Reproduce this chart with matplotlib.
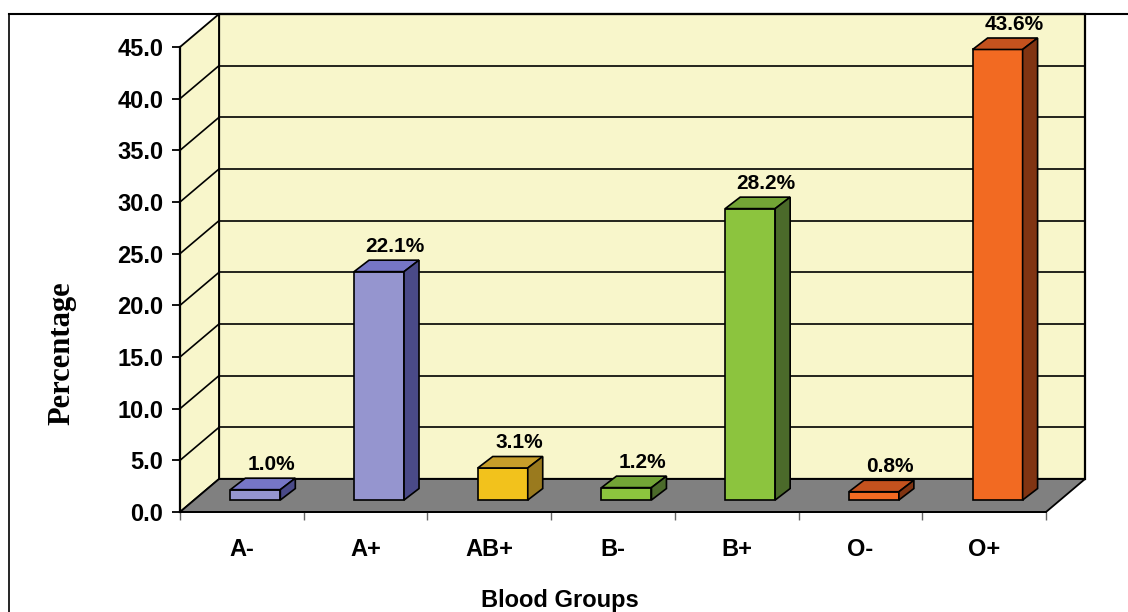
import matplotlib.pyplot as plt
from matplotlib.patches import Polygon
from matplotlib.lines import Line2D

# data
groups = ['A-', 'A+', 'AB+', 'B-', 'B+', 'O-', 'O+']
percent = [1.0, 22.1, 3.1, 1.2, 28.2, 0.8, 43.6]
face_col = ['#9595CF', '#9595CF', '#F2C21C', '#8CC43E', '#8CC43E', '#F26A22', '#F26A22']
top_col = ['#7676C6', '#7676C6', '#C79E2A', '#73A536', '#73A536', '#C4521E', '#C4521E']
side_col = ['#4A4A88', '#4A4A88', '#9A7A1E', '#4B6A2A', '#4B6A2A', '#803412', '#803412']
yticks = [0, 5, 10, 15, 20, 25, 30, 35, 40, 45]

# fake 3d geometry (data units)
DX, DY = 0.315, 3.19          # depth of the walls
BX, BY = 0.109, 1.16          # where the bar front sits
BDX, BDY = 0.121, 1.11        # depth of a bar
BW = 0.404                    # bar width
WALL = '#F8F6CB'
FLOOR = '#808080'
FONT = 'Liberation Sans'

fig = plt.figure(figsize=(11.28, 6.12), dpi=100)
ax = fig.add_axes([180/1128, 100/612, 866/1128, 465/612])
n = len(groups)
x0, x1 = -0.5, n - 0.5
ymax = yticks[-1]
ax.set_xlim(x0, x1)
ax.set_ylim(0, ymax)
ax.patch.set_visible(False)

def poly(pts, fc, lw=1.0, z=1):
    ax.add_patch(Polygon(pts, closed=True, fc=fc, ec='black', lw=lw, zorder=z, clip_on=False))

# walls and floor
poly([(x0 + DX, DY), (x1 + DX, DY), (x1 + DX, ymax + DY), (x0 + DX, ymax + DY)], WALL, 1.6, 0.5)
poly([(x0, 0), (x0 + DX, DY), (x0 + DX, ymax + DY), (x0, ymax)], WALL, 1.3, 0.5)
poly([(x0, 0), (x1, 0), (x1 + DX, DY), (x0 + DX, DY)], FLOOR, 1.3, 0.6)

for v in yticks[1:-1]:
    ax.add_line(Line2D([x0 + DX, x1 + DX], [v + DY, v + DY], color='black', lw=1.2, zorder=0.7, clip_on=False))
    ax.add_line(Line2D([x0, x0 + DX], [v, v + DY], color='black', lw=1.2, zorder=0.7, clip_on=False))

# bars
for i, v in enumerate(percent):
    l = i - BW/2 + BX
    r = l + BW
    b = BY
    t = BY + v
    poly([(l, b), (r, b), (r, t), (l, t)], face_col[i], 1.2, 3)
    poly([(l, t), (r, t), (r + BDX, t + BDY), (l + BDX, t + BDY)], top_col[i], 1.2, 3)
    poly([(r, b), (r + BDX, b + BDY), (r + BDX, t + BDY), (r, t)], side_col[i], 1.2, 3)
    ax.text(i + BX + 0.13, t + BDY + 0.8, '%.1f%%' % v, ha='center', va='baseline',
            fontsize=15, fontweight='bold', family=FONT, zorder=5)

# axes
for s in ['top', 'right']:
    ax.spines[s].set_visible(False)
ax.spines['left'].set_linewidth(1.6)
ax.spines['bottom'].set_linewidth(1.3)
ax.spines['left'].set_zorder(4)
ax.spines['bottom'].set_zorder(4)
ax.set_yticks(yticks)
ax.set_yticklabels(['%.1f' % v for v in yticks], fontsize=17, fontweight='bold', family=FONT)
ax.tick_params(axis='y', direction='out', length=6, width=1.3, pad=6)
ax.set_xticks([k - 0.5 for k in range(n + 1)])
ax.set_xticklabels([])
ax.tick_params(axis='x', which='major', direction='out', length=6, width=1, color='#666666')
ax.set_xticks(range(n), minor=True)
ax.set_xticklabels(groups, minor=True, fontsize=17, fontweight='bold', family=FONT)
ax.tick_params(axis='x', which='minor', length=0, pad=19)

fig.text(560/1128, 1 - 600/612, 'Blood Groups', ha='center', va='center',
         fontsize=17, fontweight='bold', family=FONT)
fig.text(62/1128, 1 - 353/612, 'Percentage', ha='center', va='center', rotation=90,
         fontsize=22, fontweight='bold', family='Liberation Serif')

# outer chart frame
fig.add_artist(Line2D([9/1128, 9/1128], [0, 1 - 14/612], color='black', lw=1.2, transform=fig.transFigure))
fig.add_artist(Line2D([9/1128, 1], [1 - 14/612, 1 - 14/612], color='black', lw=1.5, transform=fig.transFigure))

fig.savefig('out.png', dpi=100)
